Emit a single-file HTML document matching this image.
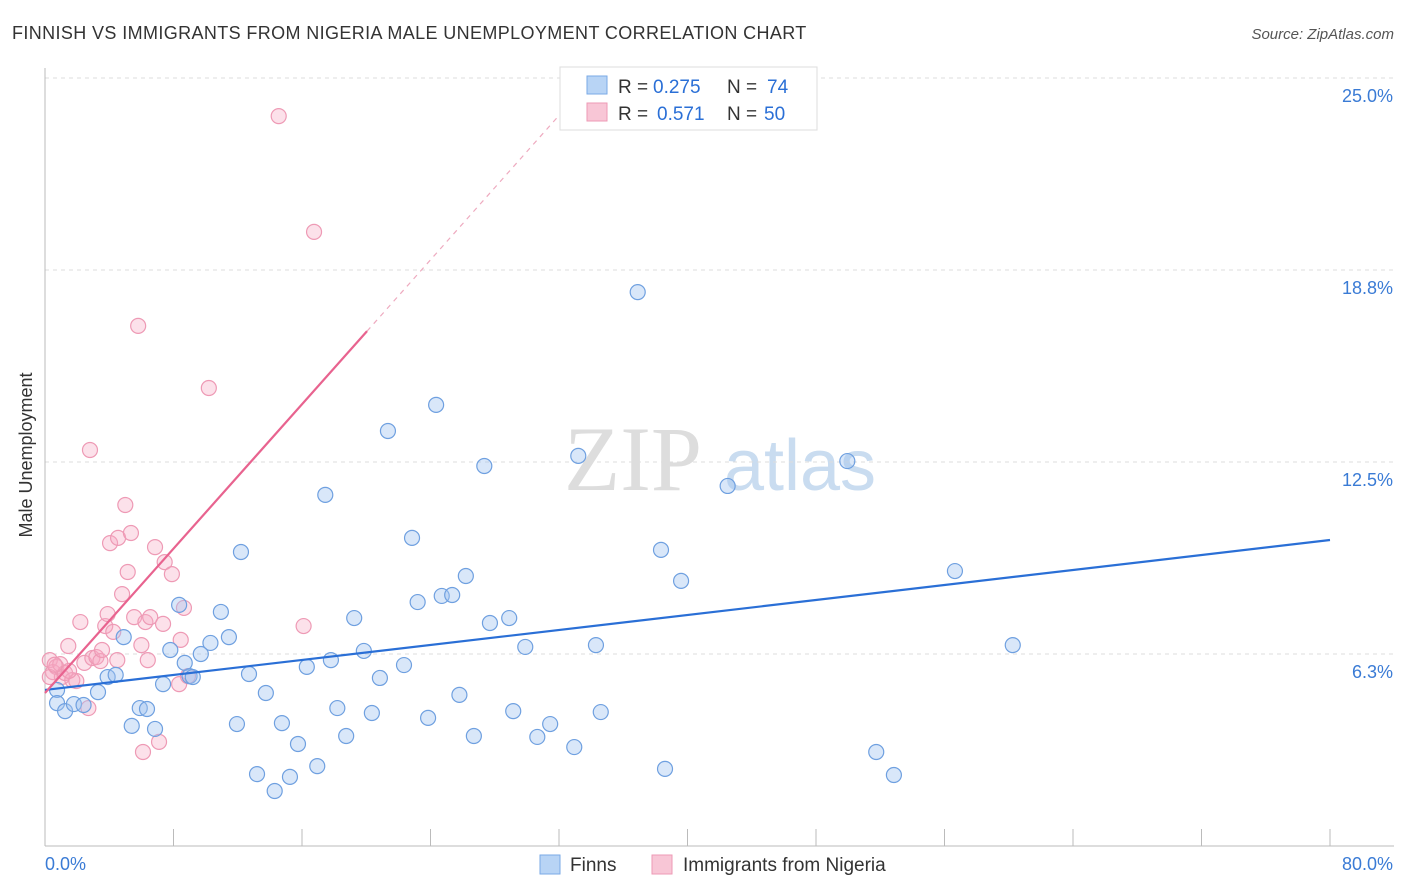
<!DOCTYPE html>
<html><head><meta charset="utf-8"><style>
body{margin:0;background:#fff;font-family:"Liberation Sans",sans-serif;}
svg{display:block}
</style></head><body>
<svg id="chart" width="1406" height="892">
<text x="12" y="39" font-size="18" fill="#333" letter-spacing="0.38">FINNISH VS IMMIGRANTS FROM NIGERIA MALE UNEMPLOYMENT CORRELATION CHART</text>
<text x="1394" y="39" font-size="15" fill="#555" font-style="italic" text-anchor="end">Source: ZipAtlas.com</text>
<g>
<text x="633" y="490" font-size="92" fill="#ddd" font-family="Liberation Serif,serif" text-anchor="middle">ZIP</text>
<text x="800" y="490" font-size="72" fill="#c9dcf0" text-anchor="middle">atlas</text>
</g>
<text x="32" y="455" font-size="18" fill="#333" transform="rotate(-90 32 455)" text-anchor="middle">Male Unemployment</text>
<g id="grid"></g><g id="axes"></g><g id="marks"></g>
<g>
<rect x="560" y="67" width="257" height="63" fill="#fff" stroke="#ddd"/>
<rect x="587" y="76" width="20" height="18" fill="#b8d4f5" stroke="#7aaae6"/>
<rect x="587" y="103" width="20" height="18" fill="#f8c6d6" stroke="#ee9ab5"/>
<g font-size="19" fill="#333">
<text x="618" y="93">R =</text><text x="653" y="93" fill="#2a6fd6">0.275</text>
<text x="727" y="93">N =</text><text x="767" y="93" fill="#2a6fd6">74</text>
<text x="618" y="120">R =</text><text x="657" y="120" fill="#2a6fd6">0.571</text>
<text x="727" y="120">N =</text><text x="764" y="120" fill="#2a6fd6">50</text>
</g>
</g>
<g>
<rect x="540" y="855" width="20" height="19" fill="#b8d4f5" stroke="#7aaae6"/>
<text x="570" y="871" font-size="19" fill="#333">Finns</text>
<rect x="652" y="855" width="20" height="19" fill="#f8c6d6" stroke="#ee9ab5"/>
<text x="683" y="871" font-size="19" fill="#333">Immigrants from Nigeria</text>
</g>
</svg>
<script>
const yTicks=[25,18.75,12.5,6.25];
const yTickLabels=["25.0%","18.8%","12.5%","6.3%"];
const xTicks=[0,8,16,24,32,40,48,56,64,72,80];
const finnsX=[0.75,0.75,1.25,1.8,2.4,3.3,3.9,4.4,4.9,5.4,5.9,6.35,6.85,7.35,7.8,8.35,8.7,9.0,9.2,9.7,10.3,10.95,11.45,11.95,12.2,12.7,13.2,13.75,14.3,14.75,15.25,15.75,16.3,16.95,17.45,17.8,18.2,18.75,19.25,19.85,20.35,20.85,21.35,22.35,22.85,23.2,23.85,24.35,24.7,25.35,25.8,26.2,26.7,27.35,27.7,28.9,29.15,29.9,30.65,31.45,32.95,33.2,34.3,34.6,36.9,38.35,38.6,39.6,42.5,49.95,51.75,52.85,56.65,60.25];
const finnsY=[5.08,4.65,4.39,4.62,4.59,5.01,5.5,5.57,6.8,3.91,4.49,4.46,3.81,5.27,6.38,7.85,5.96,5.53,5.5,6.25,6.61,7.62,6.8,3.97,9.57,5.6,2.34,4.98,1.79,4.0,2.25,3.32,5.83,2.6,11.43,6.05,4.49,3.58,7.42,6.35,4.33,5.47,13.51,5.89,10.03,7.94,4.17,14.36,8.14,8.17,4.92,8.79,3.58,12.37,7.26,7.42,4.39,6.48,3.55,3.97,3.22,12.7,6.54,4.36,18.03,9.64,2.51,8.63,11.72,12.53,3.06,2.31,8.95,6.54];
const nigX=[0.3,0.5,0.7,0.95,1.05,1.25,1.45,1.7,1.95,2.2,2.45,2.7,2.8,2.95,3.2,3.45,3.55,3.75,3.9,4.05,4.25,4.5,4.55,4.8,5.0,5.15,5.35,5.55,5.8,6.0,6.1,6.25,6.4,6.55,6.85,7.1,7.35,7.45,7.9,8.35,8.45,8.65,8.9,10.2,14.55,16.1,16.75,0.3,0.6,1.5];
const nigY=[6.05,5.66,5.83,5.92,5.5,5.63,6.51,5.4,5.37,7.29,5.96,4.49,12.89,6.12,6.15,6.02,6.38,7.16,7.55,9.86,6.97,6.05,10.03,8.2,11.1,8.92,10.19,7.45,16.93,6.54,3.06,7.29,6.05,7.45,9.73,3.39,7.23,9.24,8.85,5.27,6.71,7.75,5.53,14.91,23.76,7.16,19.99,5.5,5.9,5.7];
const finnsTrend=[5.08,9.96];
const nigTrend=[4.98,0.5875];
const NS="http://www.w3.org/2000/svg";
const sx=v=>45+v*1285/80;
const sy=v=>846-v*30.72;
function mk(tag,attrs,parent){const e=document.createElementNS(NS,tag);for(const k in attrs)e.setAttribute(k,attrs[k]);parent.appendChild(e);return e;}
const grid=document.getElementById('grid'),axes=document.getElementById('axes'),marks=document.getElementById('marks');
yTicks.forEach((t,i)=>{
 const l=mk('line',{x1:45,x2:1394,y1:sy(t),y2:sy(t),stroke:'#ddd','stroke-dasharray':'4,4'},grid);
 
 
 const tx=mk('text',{x:1393,y:sy(t)+24,'font-size':18,fill:'#3a7bd5','text-anchor':'end'},axes);
 tx.textContent=yTickLabels[i];
 
 
});
mk('line',{x1:45,x2:45,y1:68,y2:846,stroke:'#bbb'},axes);
mk('line',{x1:45,x2:1394,y1:846,y2:846,stroke:'#bbb'},axes);
xTicks.forEach(t=>{
 const l=mk('line',{x1:sx(t),x2:sx(t),y1:829,y2:846,stroke:'#bbb'},axes);
 
 
});
const xl=mk('text',{x:45,y:870,'font-size':18,fill:'#3a7bd5'},axes);xl.textContent='0.0%';


const xr=mk('text',{x:1393,y:870,'font-size':18,fill:'#3a7bd5','text-anchor':'end'},axes);xr.textContent='80.0%';


nigX.forEach((x,i)=>{
 const c=mk('circle',{cx:sx(x),cy:sy(nigY[i]),r:7.5,fill:'rgba(245,170,195,0.35)',stroke:'#ee9ab5','stroke-width':1.2},marks);
 
 
});
finnsX.forEach((x,i)=>{
 const c=mk('circle',{cx:sx(x),cy:sy(finnsY[i]),r:7.5,fill:'rgba(160,195,240,0.4)',stroke:'#6fa0e0','stroke-width':1.2},marks);
 
 
});
const bt=mk('line',{x1:sx(0),y1:sy(finnsTrend[0]),x2:sx(80),y2:sy(finnsTrend[1]),stroke:'#2a6fd6','stroke-width':2.2},marks);


const xe=20.05,xd=(24.3-nigTrend[0])/nigTrend[1];
const pt=mk('line',{x1:sx(0),y1:sy(nigTrend[0]),x2:sx(xe),y2:sy(nigTrend[0]+nigTrend[1]*xe),stroke:'#e8638f','stroke-width':2.2},marks);


const pd=mk('line',{x1:sx(xe),y1:sy(nigTrend[0]+nigTrend[1]*xe),x2:sx(xd),y2:sy(24.3),stroke:'#eeaabf','stroke-width':1.2,'stroke-dasharray':'5,5'},marks);


</script>
</body></html>
